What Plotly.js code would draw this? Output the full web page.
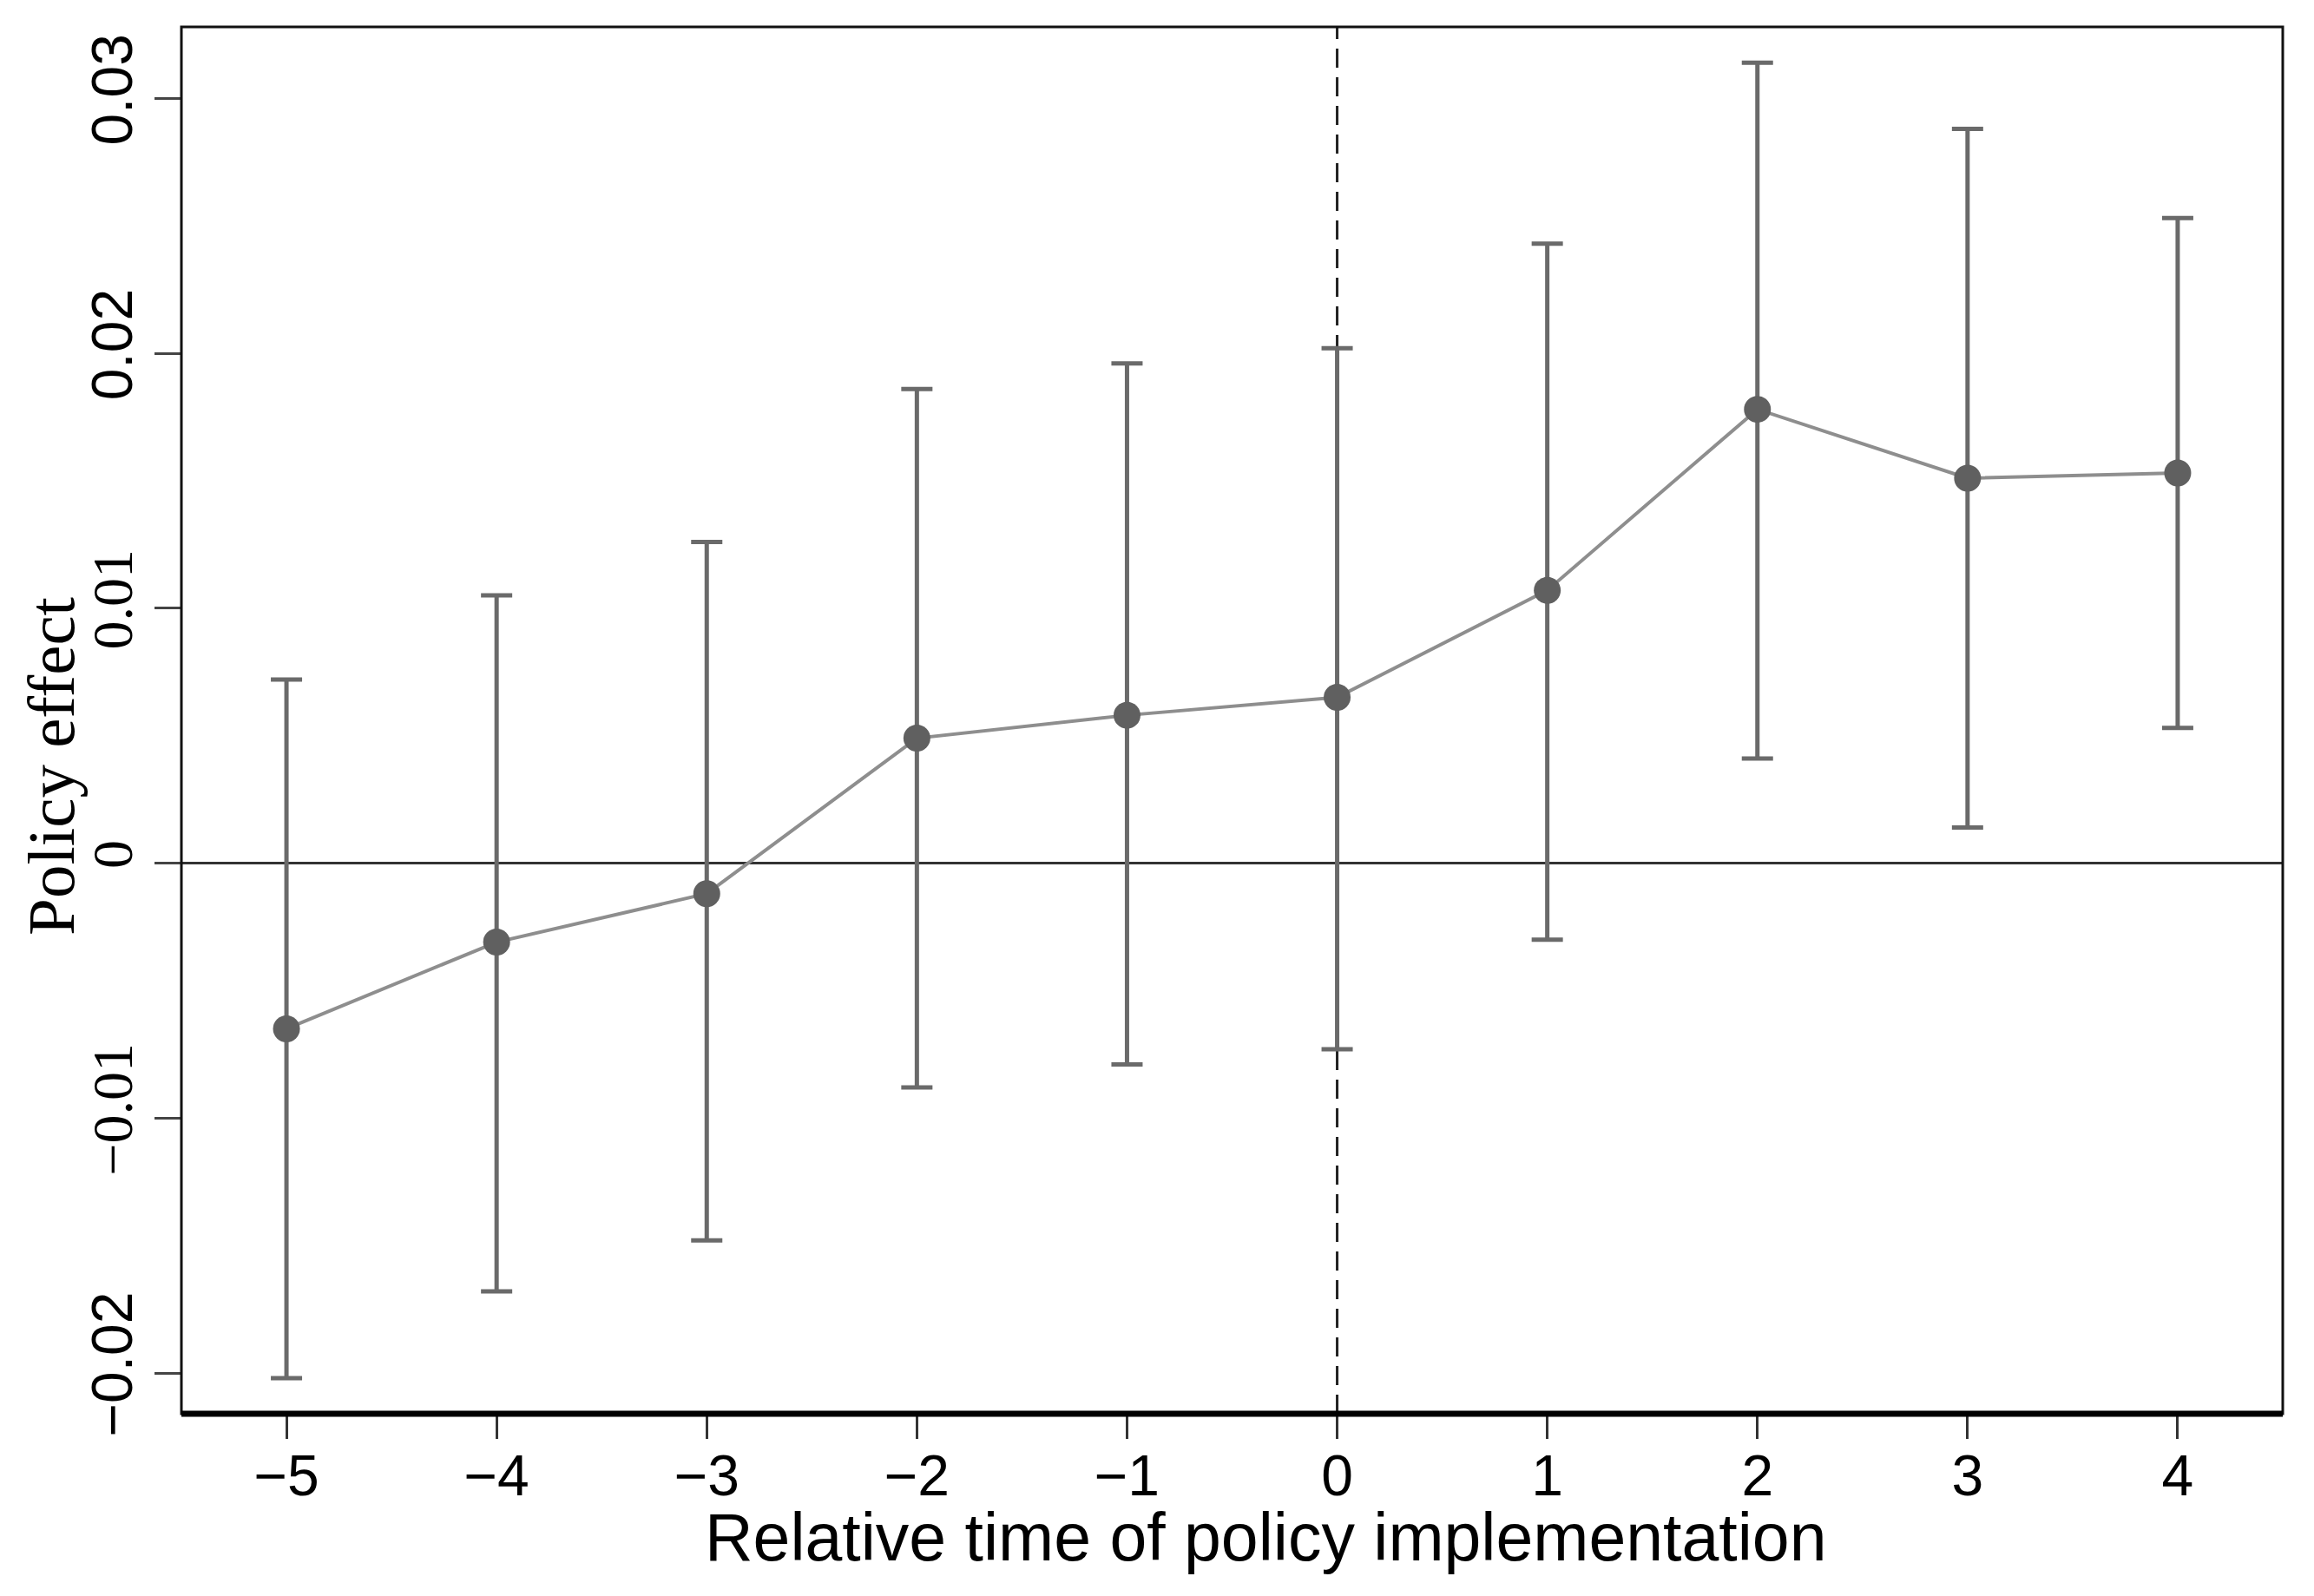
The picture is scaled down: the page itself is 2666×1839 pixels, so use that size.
<!DOCTYPE html>
<html>
<head>
<meta charset="utf-8">
<script src="https://cdn.plot.ly/plotly-3.0.1.min.js"></script>
<style>html,body{margin:0;padding:0;background:#fff;}</style>
</head>
<body>
<div id="chart" style="width:2666px;height:1839px;"></div>
<script>
// Data
const relTime = [-5, -4, -3, -2, -1, 0, 1, 2, 3, 4];
const estimate = [-0.0065, -0.0031, -0.0012, 0.0049, 0.0058, 0.0065, 0.0107, 0.0178, 0.0151, 0.0153];
const ciUpper = [0.0072, 0.0105, 0.0126, 0.0186, 0.0196, 0.0202, 0.0243, 0.0314, 0.0288, 0.0253];
const ciLower = [-0.0202, -0.0168, -0.0148, -0.0088, -0.0079, -0.0073, -0.0030, 0.0041, 0.0014, 0.0053];
const xTickVals = [-5, -4, -3, -2, -1, 0, 1, 2, 3, 4];
const xTickText = ['\u22125', '\u22124', '\u22123', '\u22122', '\u22121', '0', '1', '2', '3', '4'];
const yTickVals = [-0.02, -0.01, 0, 0.01, 0.02, 0.03];
const yTickText = ['\u22120.02', '\u22120.01', '0', '0.01', '0.02', '0.03'];
const yTickSerif = [false, true, true, true, false, false];
const xTitle = 'Relative time of policy implementation';
const yTitle = 'Policy effect';

const errPlus = estimate.map((v, i) => ciUpper[i] - v);
const errMinus = estimate.map((v, i) => v - ciLower[i]);
const yTickLabels = yTickText.map((t, i) => yTickSerif[i]
  ? '<span style="font-family:Liberation Serif">' + t + '</span>'
  : t);

const trace = {
  x: relTime,
  y: estimate,
  type: 'scatter',
  mode: 'lines+markers',
  line: {color: '#8e8e8e', width: 4},
  marker: {color: '#606060', size: 31, line: {width: 0}},
  error_y: {
    type: 'data',
    symmetric: false,
    array: errPlus,
    arrayminus: errMinus,
    color: '#6a6a6a',
    thickness: 5,
    width: 18
  },
  hoverinfo: 'skip',
  showlegend: false
};

const layout = {
  width: 2666,
  height: 1839,
  margin: {l: 209, r: 36, t: 31, b: 210},
  paper_bgcolor: '#ffffff',
  plot_bgcolor: '#ffffff',
  font: {family: "'Liberation Sans', Arial, sans-serif", color: '#000000'},
  showlegend: false,
  xaxis: {
    range: [-5.5, 4.5],
    tickmode: 'array',
    tickvals: xTickVals,
    ticktext: xTickText,
    ticks: 'outside',
    ticklen: 28,
    tickwidth: 3,
    tickcolor: '#333333',
    ticklabelstandoff: -14,
    tickfont: {size: 66, family: "'Liberation Sans', Arial, sans-serif", color: '#000'},
    showgrid: false,
    zeroline: false,
    showline: false
  },
  yaxis: {
    range: [-0.0216, 0.0328],
    tickmode: 'array',
    tickvals: yTickVals,
    ticktext: yTickLabels,
    tickangle: -90,
    ticks: 'outside',
    ticklen: 30,
    tickwidth: 3,
    tickcolor: '#444444',
    tickfont: {size: 66, family: "'Liberation Sans', Arial, sans-serif", color: '#000'},
    showgrid: false,
    zeroline: false,
    showline: false
  },
  shapes: [
    {type: 'line', xref: 'paper', yref: 'y', x0: 0, x1: 1, y0: 0, y1: 0,
     line: {color: '#333333', width: 3}, layer: 'below'},
    {type: 'line', xref: 'x', yref: 'paper', x0: 0, x1: 0, y0: 0, y1: 1,
     line: {color: '#222222', width: 3, dash: '22px,11px'}, layer: 'below'},
    {type: 'rect', xref: 'paper', yref: 'paper', x0: 0, x1: 1, y0: 0, y1: 1,
     line: {color: '#111111', width: 3}, fillcolor: 'rgba(0,0,0,0)', layer: 'above'},
    {type: 'line', xref: 'paper', yref: 'paper', x0: 0, x1: 1, y0: 0, y1: 0,
     line: {color: '#000000', width: 7}, layer: 'above'}
  ],
  annotations: [
    {text: xTitle, xref: 'paper', yref: 'paper', x: 0.516, y: 0, yshift: -142,
     xanchor: 'center', yanchor: 'middle', showarrow: false,
     font: {size: 77, family: "'Liberation Sans', Arial, sans-serif", color: '#000'}},
    {text: yTitle, xref: 'paper', yref: 'y', x: 0, xshift: -150, y: 0.0038,
     xanchor: 'center', yanchor: 'middle', textangle: -90, showarrow: false,
     font: {size: 77, family: "'Liberation Serif', 'Times New Roman', serif", color: '#000'}}
  ]
};

Plotly.newPlot('chart', [trace], layout, {displayModeBar: false, staticPlot: true});
</script>
</body>
</html>
